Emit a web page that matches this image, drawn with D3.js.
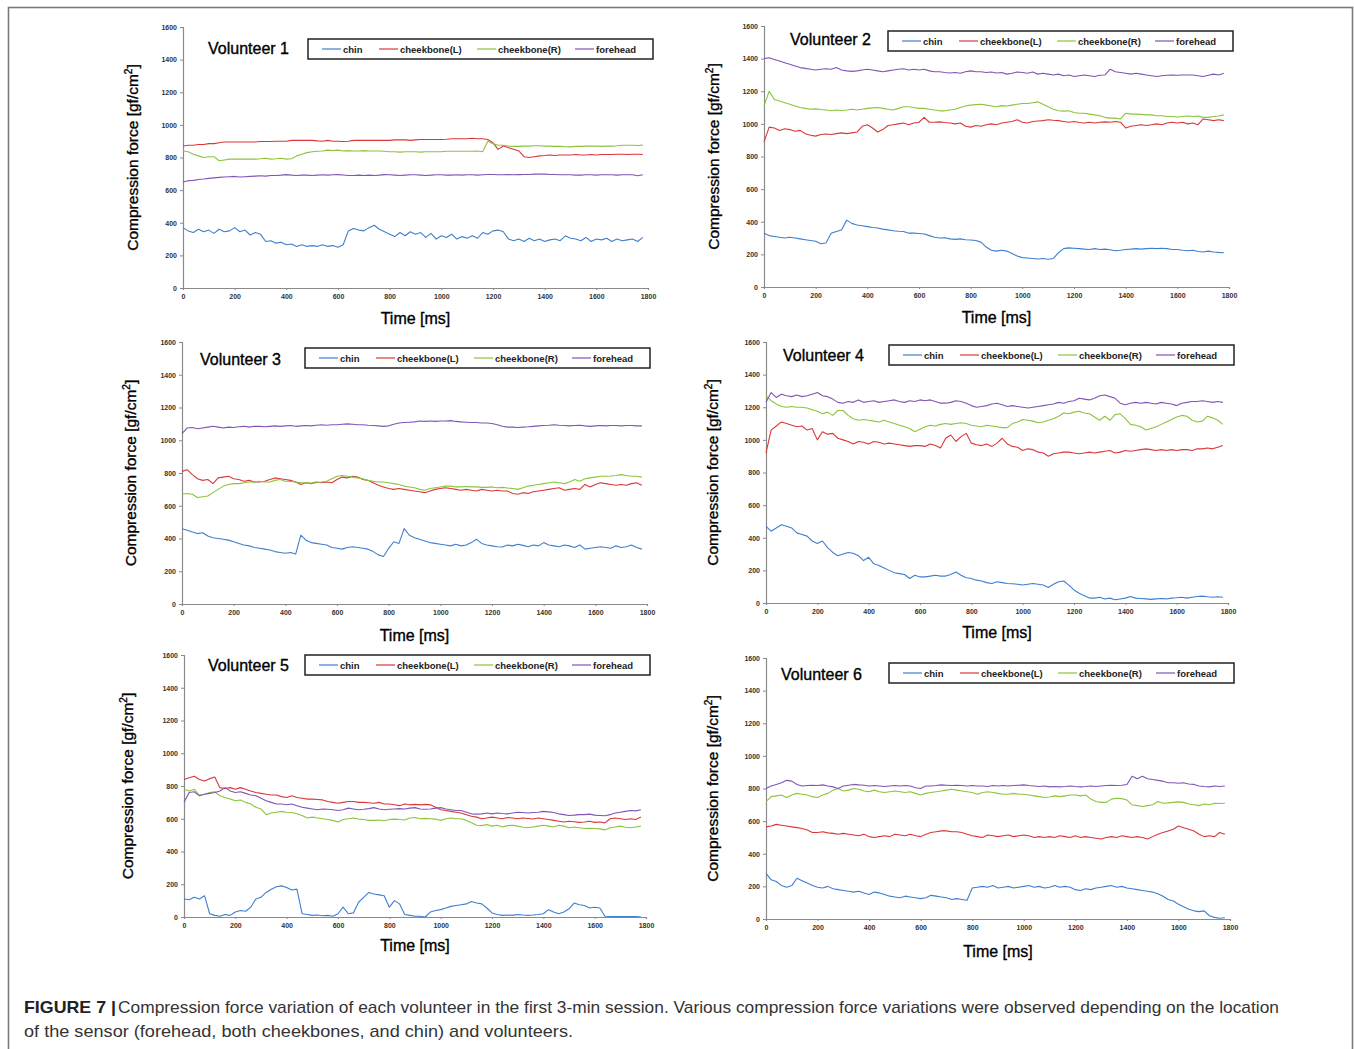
<!DOCTYPE html>
<html><head><meta charset="utf-8">
<script src="https://cdn.jsdelivr.net/npm/d3@7"></script>
<style>
html,body{margin:0;padding:0;background:#fff;}
svg{display:block;}
</style></head>
<body>
<script>
// ---------------- DATA ----------------
const SENSORS = ["chin","cheekbone(L)","cheekbone(R)","forehead"];
const Y_TICKS = [0,200,400,600,800,1000,1200,1400,1600];
const X_TICKS = [0,200,400,600,800,1000,1200,1400,1600,1800];
const TIME_MS = [0,20,40,60,80,100,120,140,160,180,200,220,240,260,280,300,320,340,360,380,400,420,440,460,480,500,520,540,560,580,600,620,640,660,680,700,720,740,760,780,800,820,840,860,880,900,920,940,960,980,1000,1020,1040,1060,1080,1100,1120,1140,1160,1180,1200,1220,1240,1260,1280,1300,1320,1340,1360,1380,1400,1420,1440,1460,1480,1500,1520,1540,1560,1580,1600,1620,1640,1660,1680,1700,1720,1740,1760,1780];

const V1_CHIN = [370,350,340,360,345,355,335,360,345,350,370,345,355,325,340,330,285,290,275,280,265,270,255,265,255,260,255,265,255,260,250,265,350,365,355,350,370,385,360,345,330,315,340,320,345,330,340,310,335,300,320,310,330,300,315,305,320,305,340,330,350,355,345,300,290,300,285,305,290,300,285,295,300,290,320,305,300,290,310,285,300,295,305,285,300,290,295,300,285,310];
const V1_CHEEK_L = [870,875,875,880,880,885,885,890,895,895,895,895,895,895,895,898,898,898,900,900,900,905,905,905,905,905,902,900,905,900,900,898,900,905,905,905,905,905,905,905,905,908,908,908,905,908,910,910,910,910,910,912,915,915,915,915,918,915,915,910,890,850,870,860,850,840,805,800,805,810,812,815,812,815,815,815,818,815,815,818,815,818,818,818,820,820,818,820,820,818];
const V1_CHEEK_R = [840,835,820,810,800,805,805,780,785,790,790,790,790,790,790,792,795,790,792,795,790,792,810,820,830,835,838,840,845,842,845,840,842,840,840,842,840,840,840,838,835,835,833,835,835,835,833,835,835,835,835,838,838,838,838,838,838,840,835,900,885,875,875,870,868,868,870,870,872,872,870,870,868,868,866,865,868,868,870,870,870,868,870,870,872,875,875,875,874,876];
const V1_FOREHEAD = [650,658,660,665,668,672,675,678,680,682,684,680,682,684,686,688,686,690,690,692,695,692,690,692,692,690,692,694,692,694,695,693,690,690,692,690,692,690,692,695,694,692,690,692,694,694,692,690,692,694,694,692,692,694,692,694,694,692,694,696,696,694,694,695,694,695,696,696,698,698,698,696,696,694,694,694,692,692,694,694,692,694,694,694,692,694,694,694,688,694];

const V2_CHIN = [330,315,310,305,300,305,300,295,290,285,280,265,270,330,340,350,410,390,380,375,370,365,362,355,350,345,342,340,330,330,328,325,315,305,300,302,295,292,295,290,288,285,275,245,225,220,225,220,205,190,180,178,175,172,175,170,175,210,235,240,238,235,232,230,235,230,232,228,222,225,230,232,235,232,235,238,235,238,235,230,230,225,222,225,218,215,220,215,212,210];
const V2_CHEEK_L = [890,980,975,960,970,965,955,960,940,930,925,935,938,935,940,945,940,945,950,985,995,975,950,965,990,995,1000,1005,995,1005,1010,1040,1010,1010,1012,1008,1005,1000,1005,985,980,990,985,995,1000,995,1005,1010,1015,1025,1010,1005,1015,1018,1020,1025,1022,1020,1015,1010,1015,1008,1005,1010,1005,1010,1012,1010,1015,1010,975,985,990,995,990,995,1000,995,1005,1010,1005,1010,1000,1005,995,1030,1025,1020,1025,1020];
const V2_CHEEK_R = [1110,1200,1150,1140,1130,1120,1110,1100,1095,1090,1092,1088,1085,1080,1085,1082,1085,1090,1085,1090,1095,1098,1100,1095,1090,1085,1095,1105,1105,1100,1095,1095,1090,1085,1080,1080,1085,1090,1100,1110,1115,1118,1120,1115,1110,1105,1112,1110,1115,1120,1125,1125,1130,1135,1120,1105,1090,1080,1078,1080,1070,1065,1065,1060,1055,1050,1040,1035,1035,1030,1065,1060,1060,1058,1055,1055,1050,1050,1045,1045,1042,1045,1048,1045,1048,1040,1040,1045,1048,1055];
const V2_FOREHEAD = [1400,1405,1395,1385,1375,1365,1355,1345,1340,1335,1330,1335,1338,1335,1345,1330,1325,1322,1325,1330,1335,1330,1325,1320,1325,1330,1335,1338,1330,1335,1330,1335,1325,1320,1320,1315,1312,1315,1310,1320,1325,1320,1320,1315,1318,1312,1315,1305,1310,1318,1315,1310,1318,1305,1310,1305,1300,1305,1295,1300,1290,1295,1300,1295,1290,1298,1300,1335,1320,1315,1310,1305,1310,1305,1300,1295,1290,1295,1298,1300,1298,1300,1300,1300,1295,1290,1298,1305,1300,1310];

const V3_CHIN = [460,450,440,430,435,415,405,400,395,390,380,370,360,355,345,340,335,330,320,315,310,315,305,420,390,375,370,365,360,345,340,335,345,350,345,340,335,320,300,290,340,380,370,460,420,405,395,385,375,370,365,360,355,365,355,360,375,395,370,360,355,350,348,360,355,365,358,350,360,355,375,360,355,350,360,355,345,360,335,340,345,350,345,340,355,345,350,360,345,335];
const V3_CHEEK_L = [810,820,790,765,755,760,735,770,775,780,765,760,750,755,745,745,750,760,770,765,760,755,745,730,740,735,745,740,745,740,760,775,770,780,775,760,755,740,725,715,705,700,705,700,695,690,685,680,690,700,705,710,705,700,695,700,695,690,700,695,690,695,690,690,675,670,680,675,685,690,695,700,705,710,695,700,705,700,730,715,730,740,735,730,725,730,725,735,740,725];
const V3_CHEEK_R = [670,675,670,650,655,660,680,700,720,730,735,735,740,745,745,750,745,745,755,760,750,748,745,740,740,738,740,745,750,765,780,785,780,775,770,765,755,750,745,745,740,735,730,720,715,710,700,695,705,710,715,720,720,715,715,718,715,715,712,712,715,710,712,708,705,700,710,720,725,730,735,740,745,740,735,745,760,750,765,770,775,780,780,782,785,790,785,780,780,775];
const V3_FOREHEAD = [1040,1075,1078,1070,1075,1080,1085,1080,1075,1080,1078,1082,1085,1080,1085,1085,1082,1085,1088,1085,1088,1090,1085,1088,1090,1088,1092,1095,1092,1095,1095,1098,1100,1098,1095,1095,1092,1090,1088,1085,1088,1098,1105,1108,1110,1112,1118,1115,1118,1115,1118,1118,1120,1115,1112,1110,1108,1108,1105,1105,1102,1095,1085,1080,1080,1078,1080,1082,1085,1088,1090,1092,1095,1092,1090,1088,1090,1092,1088,1085,1088,1090,1088,1090,1090,1088,1090,1090,1088,1088];

const V4_CHIN = [470,440,460,480,470,460,430,420,410,380,365,380,340,310,290,300,310,305,290,260,280,240,230,215,200,185,180,175,150,170,160,160,165,170,165,165,175,190,170,155,150,140,135,125,120,130,125,120,118,115,110,115,120,115,110,95,115,130,135,110,80,60,45,30,30,35,25,30,20,25,30,40,30,28,25,22,25,28,25,30,32,35,30,35,40,42,38,35,38,35];
const V4_CHEEK_L = [920,1060,1085,1110,1100,1090,1080,1085,1060,1070,1000,1050,1035,1040,1010,1000,990,975,990,985,975,990,985,975,980,975,970,965,960,965,965,960,975,965,950,1010,1030,990,1020,1040,980,970,965,975,960,980,1010,975,960,955,935,945,940,925,920,900,915,920,925,925,920,915,920,925,920,925,930,935,920,925,935,930,935,940,945,940,935,940,935,940,935,940,940,935,945,945,950,945,955,965];
const V4_CHEEK_R = [1270,1240,1220,1205,1200,1205,1200,1200,1195,1185,1175,1160,1170,1150,1180,1180,1150,1130,1120,1125,1120,1115,1110,1120,1110,1100,1090,1080,1070,1050,1065,1080,1090,1085,1095,1100,1095,1100,1105,1100,1090,1085,1080,1090,1085,1080,1075,1075,1100,1110,1125,1120,1115,1105,1110,1120,1130,1145,1165,1160,1170,1175,1165,1160,1140,1120,1145,1120,1155,1160,1130,1095,1090,1080,1060,1070,1080,1095,1110,1125,1140,1150,1145,1120,1110,1115,1145,1135,1120,1095];
const V4_FOREHEAD = [1230,1290,1260,1280,1270,1265,1275,1265,1270,1280,1290,1270,1265,1250,1230,1225,1235,1230,1245,1230,1235,1240,1230,1235,1240,1245,1235,1230,1240,1235,1245,1240,1245,1235,1225,1225,1230,1240,1235,1225,1210,1200,1205,1210,1220,1225,1215,1205,1210,1205,1200,1195,1200,1205,1210,1215,1220,1230,1225,1235,1240,1255,1250,1245,1255,1270,1275,1265,1255,1225,1215,1225,1230,1225,1230,1225,1220,1230,1225,1220,1210,1225,1230,1235,1235,1240,1235,1230,1235,1230];

const V5_CHIN = [110,105,120,110,130,20,10,5,15,10,30,40,35,60,110,120,150,170,185,190,180,165,170,20,15,10,12,8,10,5,20,60,20,25,90,120,150,140,135,130,60,100,80,15,10,5,5,0,30,40,45,55,65,70,75,80,95,85,80,55,25,15,10,12,10,15,12,10,12,15,20,45,30,20,30,50,85,75,70,55,60,55,5,3,2,2,2,3,2,0];
const V5_CHEEK_L = [840,850,860,840,830,845,855,790,785,790,780,790,780,770,760,755,750,745,745,735,730,740,730,725,720,720,718,715,705,700,695,700,705,705,700,700,698,695,700,690,690,685,680,690,685,688,685,688,685,670,655,650,645,640,635,625,615,610,600,605,610,605,600,608,605,600,605,602,598,605,600,595,590,585,580,585,582,578,580,585,578,580,575,600,605,600,595,600,595,610];
const V5_CHEEK_R = [780,770,780,745,750,760,765,740,730,720,710,715,700,690,670,660,625,635,640,645,640,638,630,620,605,610,605,600,595,590,580,595,600,605,598,595,590,590,592,588,595,598,595,592,605,608,600,602,600,598,590,600,605,600,600,590,575,560,558,565,555,560,550,558,560,555,548,545,550,555,560,555,550,560,555,545,550,545,540,542,540,538,532,545,550,555,548,545,550,555];
const V5_FOREHEAD = [700,760,765,740,750,755,760,770,790,770,760,765,755,745,740,725,710,700,690,690,685,690,680,670,665,660,655,660,658,655,650,655,665,660,655,658,662,668,660,655,658,660,662,660,665,668,660,658,660,665,668,660,655,650,650,640,630,628,630,635,630,635,632,630,635,640,638,635,638,640,645,642,638,630,625,620,622,625,625,628,622,620,618,625,635,640,645,650,648,655];

const V6_CHIN = [280,240,230,205,195,205,250,235,220,205,195,190,200,185,180,175,170,165,170,160,150,165,160,150,140,135,130,140,135,130,125,130,145,140,135,130,120,125,120,115,190,195,200,195,205,190,195,200,190,195,200,205,195,200,190,195,205,195,200,195,180,175,185,180,190,195,200,205,195,200,190,185,180,175,170,165,155,140,120,110,90,75,60,50,45,50,20,10,5,8];
const V6_CHEEK_L = [565,570,580,575,570,565,560,555,545,530,530,535,528,525,520,525,520,515,510,520,505,500,505,510,505,520,515,510,520,510,505,520,530,535,540,540,535,535,530,520,510,505,500,515,510,505,510,515,505,510,515,510,500,505,500,505,500,510,505,500,510,500,505,500,495,490,500,505,500,510,505,500,505,500,490,505,520,530,540,550,570,560,550,540,520,505,510,505,530,520];
const V6_CHEEK_R = [720,750,755,760,745,760,770,765,760,750,745,760,770,790,800,785,790,800,795,785,780,790,780,775,780,785,780,775,780,770,760,770,775,780,785,790,795,790,785,780,775,765,775,780,775,770,765,765,770,765,765,760,755,750,745,748,755,750,755,760,760,755,760,735,720,715,715,735,740,738,730,700,695,690,695,700,720,710,712,715,718,715,705,700,695,705,700,710,708,710];
const V6_FOREHEAD = [800,815,825,835,850,845,825,815,818,820,818,822,815,810,800,815,820,825,822,820,815,818,815,812,815,818,815,818,815,805,800,815,815,818,822,820,818,820,818,815,818,815,815,812,818,815,818,815,818,820,822,818,815,812,815,810,812,810,812,815,812,810,812,815,812,815,818,820,818,820,825,875,860,875,860,855,850,845,835,835,832,835,828,825,815,812,810,815,812,815];

const TITLES = ["Volunteer 1","Volunteer 2","Volunteer 3","Volunteer 4","Volunteer 5","Volunteer 6"];
const SERIES = [
  [V1_CHIN,V1_CHEEK_L,V1_CHEEK_R,V1_FOREHEAD],
  [V2_CHIN,V2_CHEEK_L,V2_CHEEK_R,V2_FOREHEAD],
  [V3_CHIN,V3_CHEEK_L,V3_CHEEK_R,V3_FOREHEAD],
  [V4_CHIN,V4_CHEEK_L,V4_CHEEK_R,V4_FOREHEAD],
  [V5_CHIN,V5_CHEEK_L,V5_CHEEK_R,V5_FOREHEAD],
  [V6_CHIN,V6_CHEEK_L,V6_CHEEK_R,V6_FOREHEAD]
];

// ---------------- LAYOUT ----------------
const COLORS = ["#3f7fcf","#d9383a","#8cc43c","#8055b5"];
const PANELS = [
  {x0:183,x1:648,yT:27,yB:288, tx:208,ty:54, lx:308,ly:39, ylx:138,xly:324},
  {x0:764,x1:1229,yT:26,yB:287, tx:790,ty:45, lx:888,ly:31, ylx:719,xly:323},
  {x0:182,x1:647,yT:342,yB:604, tx:200,ty:365, lx:305,ly:348, ylx:136,xly:641},
  {x0:766,x1:1228,yT:342,yB:603, tx:783,ty:361, lx:889,ly:345, ylx:718,xly:638},
  {x0:184,x1:646,yT:655,yB:917, tx:208,ty:671, lx:305,ly:655, ylx:133,xly:951},
  {x0:766,x1:1230,yT:658,yB:919, tx:781,ty:680, lx:889,ly:663, ylx:718,xly:957}
];

const W = 1354, H = 1049;
const svg = d3.select("body").append("svg").attr("width",W).attr("height",H);
svg.append("rect").attr("x",8.5).attr("y",7.5).attr("width",1344).attr("height",1100)
  .attr("fill","#fff").attr("stroke","#7a7a7a").attr("stroke-width",1.6);

const FONT = "'Liberation Sans', Arial, Helvetica, sans-serif";
const fmt = d3.format("d");

PANELS.forEach((p,i)=>{
  const g = svg.append("g");
  const x = d3.scaleLinear().domain([0,1800]).range([p.x0,p.x1]);
  const y = d3.scaleLinear().domain([0,1600]).range([p.yB,p.yT]);

  const ya = g.append("g").attr("transform",`translate(${p.x0},0)`)
    .call(d3.axisLeft(y).tickValues(Y_TICKS).tickFormat(fmt).tickSize(3).tickPadding(3));
  const xa = g.append("g").attr("transform",`translate(0,${p.yB})`)
    .call(d3.axisBottom(x).tickValues(X_TICKS).tickFormat(fmt).tickSize(2).tickPadding(4));
  [ya,xa].forEach(a=>{
    a.select(".domain").attr("stroke","#8a8a8a").attr("stroke-width",1.2);
    a.selectAll(".tick line").attr("stroke","#8a8a8a");
    a.selectAll(".tick text").attr("font-family",FONT).attr("font-size",7)
      .attr("font-weight","bold").attr("fill","#333");
  });

  const line = d3.line().x((d,k)=>x(TIME_MS[k])).y(d=>y(d)).curve(d3.curveLinear);
  SERIES[i].forEach((vals,s)=>{
    g.append("path").datum(vals).attr("d",line).attr("fill","none")
      .attr("stroke",COLORS[s]).attr("stroke-width",1.1).attr("stroke-linejoin","round");
  });

  // title
  g.append("text").attr("x",p.tx).attr("y",p.ty).text(TITLES[i])
    .attr("font-family",FONT).attr("font-size",16).attr("fill","#000")
    .attr("stroke","#000").attr("stroke-width",0.35);

  // legend
  const lg = g.append("g").attr("transform",`translate(${p.lx},${p.ly})`);
  lg.append("rect").attr("x",0).attr("y",0).attr("width",345).attr("height",20)
    .attr("fill","#fff").attr("stroke","#222").attr("stroke-width",1.5);
  const offs = [14,71,169,267];
  SENSORS.forEach((name,s)=>{
    lg.append("line").attr("x1",offs[s]).attr("x2",offs[s]+19).attr("y1",10).attr("y2",10)
      .attr("stroke",COLORS[s]).attr("stroke-width",1.2);
    lg.append("text").attr("x",offs[s]+21).attr("y",13.5).text(name)
      .attr("font-family",FONT).attr("font-size",9.5).attr("font-weight","bold").attr("fill","#222");
  });

  // axis titles
  const cy = (p.yT+p.yB)/2;
  const yl = g.append("text").attr("transform",`translate(${p.ylx},${cy}) rotate(-90)`)
    .attr("text-anchor","middle").attr("font-family",FONT).attr("font-size",15.5).attr("fill","#000")
    .attr("stroke","#000").attr("stroke-width",0.35);
  yl.append("tspan").text("Compression force [gf/cm");
  yl.append("tspan").text("2").attr("font-size",10).attr("dy",-6);
  yl.append("tspan").text("]").attr("dy",6);

  g.append("text").attr("x",(p.x0+p.x1)/2).attr("y",p.xly).attr("text-anchor","middle")
    .attr("font-family",FONT).attr("font-size",16).attr("fill","#000")
    .attr("stroke","#000").attr("stroke-width",0.35).text("Time [ms]");
});

// caption
const CF = "'Liberation Sans Narrow','Liberation Sans',Arial,sans-serif";
svg.append("text").attr("x",24).attr("y",1013).attr("font-family",CF).attr("font-size",17)
  .attr("font-weight","bold").attr("fill","#222").attr("textLength",92).attr("lengthAdjust","spacingAndGlyphs")
  .text("FIGURE 7 |");
svg.append("text").attr("x",118).attr("y",1013).attr("font-family",CF).attr("font-size",17)
  .attr("fill","#333").attr("textLength",1161).attr("lengthAdjust","spacingAndGlyphs")
  .text("Compression force variation of each volunteer in the first 3-min session. Various compression force variations were observed depending on the location");
svg.append("text").attr("x",24).attr("y",1037).attr("font-family",CF).attr("font-size",17)
  .attr("fill","#333").attr("textLength",549).attr("lengthAdjust","spacingAndGlyphs")
  .text("of the sensor (forehead, both cheekbones, and chin) and volunteers.");
</script>
</body></html>
